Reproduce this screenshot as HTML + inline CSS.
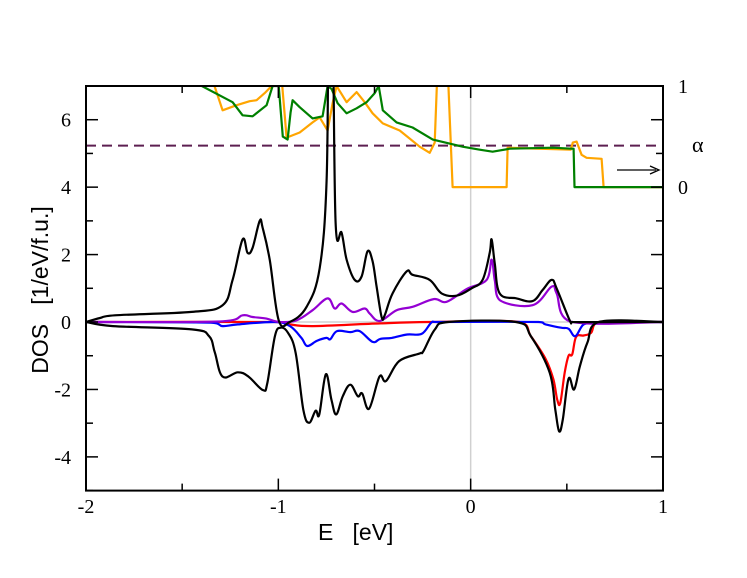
<!DOCTYPE html>
<html><head><meta charset="utf-8"><style>
body{margin:0;background:#fff}
svg{display:block}
</style></head><body>
<svg id="chart" width="747" height="578" viewBox="0 0 747 578" style="position:absolute;left:0;top:0">
<defs><clipPath id="pc"><rect x="86" y="86" width="577" height="405"/></clipPath></defs>
<g id="plot" clip-path="url(#pc)"></g>
<g id="axes"></g>
</svg>
<script>
const xTicks=[-2,-1,0,1];
const yTicks=[-4,-2,0,2,4,6];
const alphaTicks=[0,1];
const alphaLine=0.41;
const totUpE=[-2,-1.927,-1.85,-1.45,-1.29,-1.238,-1.186,-1.16,-1.134,-1.097,-1.082,-1.045,-0.998,-0.941,-0.853,-0.785,-0.749,-0.738,-0.718,-0.702,-0.671,-0.645,-0.603,-0.567,-0.536,-0.51,-0.489,-0.463,-0.447,-0.406,-0.333,-0.302,-0.213,-0.151,-0.073,0.005,0.062,0.099,0.109,0.125,0.151,0.239,0.322,0.374,0.421,0.447,0.515,0.53,1];
const totUpV=[0,0.12,0.2,0.3,0.5,1.25,2.45,2.05,2.2,3.0,2.8,1.85,0.05,0,0.45,1.6,4.2,9,9,2.95,2.65,1.85,1.25,1.35,2.1,1.8,1.05,0.15,0.2,0.85,1.5,1.4,1.25,0.85,0.78,1.0,1.25,2.05,2.45,1.75,0.85,0.7,0.62,0.95,1.25,1.0,0.05,0,0];
const purE=[-2,-1.29,-1.186,-1.134,-1.062,-0.993,-0.905,-0.822,-0.744,-0.707,-0.671,-0.614,-0.551,-0.525,-0.473,-0.385,-0.302,-0.192,-0.125,-0.02,0.083,0.109,0.125,0.151,0.322,0.421,0.447,0.515,1];
const purV=[0,0.02,0.2,0.15,0.1,0,0.05,0.35,0.7,0.4,0.55,0.3,0.4,0.25,0.03,0.35,0.45,0.68,0.6,0.98,1.25,1.85,1.25,0.65,0.5,1.05,0.85,0.02,0];
const redE=[-2,-1.0,-0.94,-0.82,-0.47,-0.215,0.254,0.313,0.39,0.43,0.45,0.466,0.489,0.509,0.528,0.548,0.587,0.626,0.665,1];
const redV=[0,0,-0.07,-0.12,-0.04,0,0,-0.42,-1.1,-1.7,-2.3,-2.4,-1.5,-1.0,-0.96,-0.44,-0.4,-0.32,0,0];
const bluE=[-2,-1.35,-1.29,-1.21,-1.02,-0.94,-0.88,-0.85,-0.8,-0.75,-0.73,-0.695,-0.626,-0.577,-0.51,-0.47,-0.41,-0.33,-0.254,-0.205,-0.176,0.352,0.39,0.47,0.509,0.544,0.587,0.646,0.675,1];
const bluV=[0,-0.02,-0.12,-0.07,0,-0.12,-0.47,-0.71,-0.56,-0.47,-0.51,-0.27,-0.3,-0.27,-0.59,-0.5,-0.47,-0.37,-0.35,-0.02,0,0,-0.07,-0.17,-0.2,-0.42,-0.07,-0.04,0,0];
const totDnE=[-2,-1.86,-1.45,-1.36,-1.33,-1.29,-1.21,-1.155,-1.08,-1.057,-1.018,-0.988,-0.95,-0.91,-0.87,-0.84,-0.806,-0.787,-0.753,-0.724,-0.699,-0.665,-0.626,-0.587,-0.564,-0.528,-0.474,-0.44,-0.372,-0.264,-0.245,-0.186,-0.117,0.235,0.313,0.411,0.44,0.46,0.479,0.509,0.538,0.568,0.607,0.665,1];
const totDnV=[0,-0.12,-0.22,-0.42,-0.91,-1.62,-1.49,-1.62,-2.02,-1.8,-0.42,-0.17,-0.32,-0.91,-2.6,-2.99,-2.63,-2.74,-1.55,-2.3,-2.74,-2.2,-1.86,-2.2,-2.12,-2.57,-1.62,-1.75,-1.16,-0.93,-0.86,-0.22,0,0,-0.42,-1.5,-2.6,-3.24,-2.89,-1.68,-2.0,-1.31,-0.61,0,0];
const grnE=[-1.5,-1.398,-1.238,-1.186,-1.134,-1.061,-1.03,-0.998,-0.977,-0.952,-0.936,-0.926,-0.889,-0.822,-0.77,-0.744,-0.723,-0.692,-0.645,-0.593,-0.541,-0.499,-0.478,-0.457,-0.385,-0.302,-0.197,-0.042,0.047,0.114,0.203,0.426,0.525,0.535,0.54,1];
const grnV=[1.1,1.0,0.84,0.71,0.70,0.81,1.0,1.0,0.5,0.47,0.74,0.86,0.79,0.68,0.70,1.0,0.97,0.83,0.73,0.78,0.84,0.93,1.0,0.76,0.64,0.59,0.47,0.40,0.37,0.35,0.38,0.39,0.38,0.38,0,0];
const orgE=[-1.5,-1.332,-1.29,-1.217,-1.149,-1.113,-1.071,-1.035,-0.993,-0.957,-0.889,-0.822,-0.785,-0.744,-0.718,-0.697,-0.645,-0.593,-0.551,-0.51,-0.457,-0.369,-0.265,-0.213,-0.187,-0.172,-0.12,-0.094,0.187,0.192,0.52,0.531,0.551,0.577,0.603,0.681,0.691,1];
const orgV=[1.2,1.0,0.76,0.81,0.85,0.86,0.93,1.0,1.3,0.49,0.54,0.64,0.69,0.56,0.83,1.0,0.84,0.94,0.84,0.73,0.63,0.56,0.40,0.34,0.44,1.2,1.2,0,0,0.39,0.37,0.44,0.45,0.32,0.29,0.28,0,0];

const X0=86,X1=663,Y0=490.6,Y1=86;
const sx=e=>X0+(e+2)/3*(X1-X0);
const sy=v=>Y0-(v+5)/12*(Y0-Y1);
const sa=a=>sy(4+3*a);
const NS='http://www.w3.org/2000/svg';
function mk(tag,attrs,parent){const el=document.createElementNS(NS,tag);for(const k in attrs)el.setAttribute(k,attrs[k]);parent.appendChild(el);return el;}
const plot=document.getElementById('plot'),axes=document.getElementById('axes');
let g=mk('line',{x1:sx(0),x2:sx(0),y1:Y1,y2:Y0,stroke:'#d0d0d0','stroke-width':1.5},plot);


g=mk('line',{x1:X0,x2:X1,y1:sy(0),y2:sy(0),stroke:'#d0d0d0','stroke-width':1.5},plot);


g=mk('line',{x1:X0,x2:X1,y1:sa(alphaLine),y2:sa(alphaLine),stroke:'#5c1f50','stroke-width':2,'stroke-dasharray':'10,6'},plot);


function smoothPath(P){
  let d='M'+P[0][0].toFixed(1)+','+P[0][1].toFixed(1);
  for(let i=0;i<P.length-1;i++){
    const p0=P[Math.max(0,i-1)],p1=P[i],p2=P[i+1],p3=P[Math.min(P.length-1,i+2)];
    const t=0.18;
    const c1=[p1[0]+(p2[0]-p0[0])*t,p1[1]+(p2[1]-p0[1])*t];
    const c2=[p2[0]-(p3[0]-p1[0])*t,p2[1]-(p3[1]-p1[1])*t];
    c1[0]=Math.min(Math.max(c1[0],p1[0]),p2[0]);c2[0]=Math.min(Math.max(c2[0],p1[0]),p2[0]);
    d+=' C'+c1[0].toFixed(1)+','+c1[1].toFixed(1)+' '+c2[0].toFixed(1)+','+c2[1].toFixed(1)+' '+p2[0].toFixed(1)+','+p2[1].toFixed(1);
  }
  return d;
}
function series(E,V,color,name,f,smooth){
  const P=E.map((e,i)=>[sx(e),f(V[i])]);
  const d=smooth?smoothPath(P):'M'+P.map(p=>p[0].toFixed(1)+','+p[1].toFixed(1)).join(' L');
  const p=mk('path',{d:d,fill:'none',stroke:color,'stroke-width':2.2,'stroke-linejoin':'round'},plot);
  
  
}
series(orgE,orgV,'#ffa500','alpha-orange-series',sa,false);
series(grnE,grnV,'#008000','alpha-green-series',sa,false);
series(redE,redV,'#ff0000','red-dos-down',sy,true);
series(bluE,bluV,'#0000ff','blue-dos-down',sy,true);
series(purE,purV,'#9400d3','purple-dos-up',sy,true);
series(totUpE,totUpV,'#000000','total-dos-up',sy,true);
series(totDnE,totDnV,'#000000','total-dos-down',sy,true);
g=mk('rect',{x:X0,y:Y1,width:X1-X0,height:Y0-Y1,fill:'none',stroke:'#000','stroke-width':2},axes);


for(let e=-2;e<=1.001;e+=0.5){const x=sx(e);
  mk('line',{x1:x,x2:x,y1:Y0,y2:Y0-(e%1===0?12:7),stroke:'#000','stroke-width':1.5},axes);
  mk('line',{x1:x,x2:x,y1:Y1,y2:Y1+(e%1===0?12:7),stroke:'#000','stroke-width':1.5},axes);}
for(let v=-5;v<=7;v++){const y=sy(v);
  mk('line',{x1:X0,x2:X0+(v%2===0?12:7),y1:y,y2:y,stroke:'#000','stroke-width':1.5},axes);
  mk('line',{x1:X1,x2:X1-(v%2===0?12:7),y1:y,y2:y,stroke:'#000','stroke-width':1.5},axes);}
const tf={'font-family':'Liberation Serif, serif','font-size':20,fill:'#000'};
xTicks.forEach(t=>{const el=mk('text',Object.assign({x:sx(t),y:513,'text-anchor':'middle'},tf),axes);el.textContent=String(t);
  
  });
yTicks.forEach(t=>{const el=mk('text',Object.assign({x:71,y:sy(t)+7,'text-anchor':'end'},tf),axes);el.textContent=String(t);
  
  });
alphaTicks.forEach(t=>{const el=mk('text',Object.assign({x:678,y:sa(t)+7},tf),axes);el.textContent=String(t);
  
  });
</script>
<svg style="position:absolute;left:0;top:0" width="747" height="578">
<text x="692" y="152" style="font-family:'Liberation Serif',serif;font-size:22px">α</text>
<line x1="617" y1="170" x2="656" y2="170" stroke="#000" stroke-width="1.3"/>
<path d="M650,166 L659,170 L650,174" fill="none" stroke="#000" stroke-width="1.3"/>
<text x="318" y="540" style="font-family:'Liberation Sans',sans-serif;font-size:23px;white-space:pre">E   [eV]</text>
<text transform="translate(48,290) rotate(-90)" text-anchor="middle" style="font-family:'Liberation Sans',sans-serif;font-size:23px;white-space:pre">DOS   [1/eV/f.u.]</text>
</svg>
</body></html>
